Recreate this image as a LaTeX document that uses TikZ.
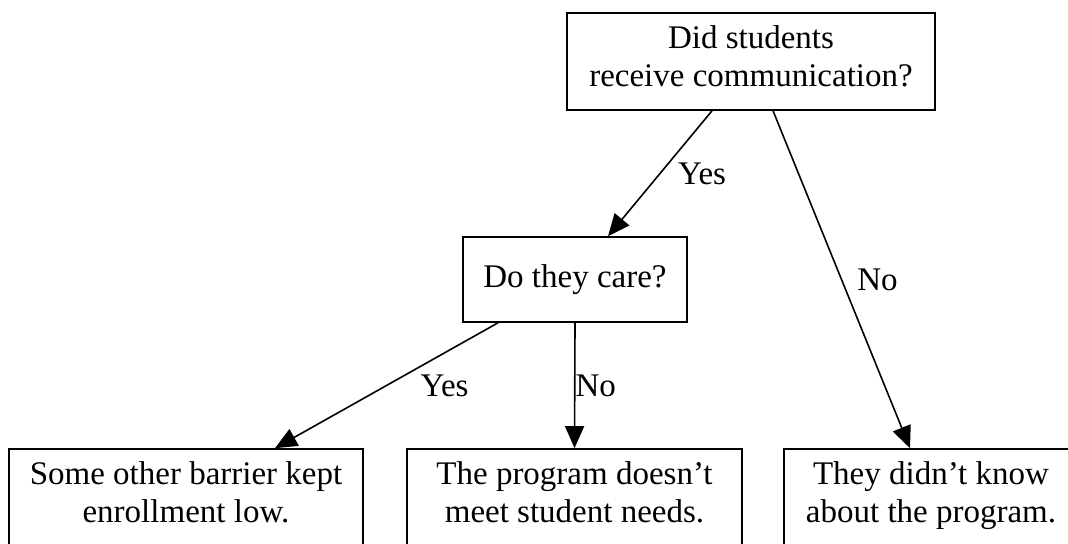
\documentclass[tikz,border=0pt]{standalone}
\usepackage{fontspec}
\setmainfont{Liberation Serif}
\usetikzlibrary{arrows.meta}
\tikzset{
  >={Triangle[length=11pt,width=9.5pt]},
  box/.style={draw, line width=0.8pt, align=center, inner xsep=0pt,
    font=\fontsize{16.5}{19}\selectfont,
    execute at begin node=\strut, execute at end node=\strut},
  two/.style={minimum height=48.5pt},
  one/.style={minimum height=42.5pt},
  lbl/.style={font=\fontsize{16.5}{19}\selectfont},
  edge/.style={->, line width=0.8pt},
}
\begin{document}
\begin{tikzpicture}[x=0.5pt,y=-0.5pt]
				\clip (0,0) rectangle (1068,544);
				\node[box,two,minimum width=184pt] (comm) at (751,61.5) {Did students\\receive communication?};
				\node[box,one,minimum width=112pt] (care) at (575,279.5) {Do they care?};
				\node[box,two,minimum width=177pt] (other) at (186,497.5) {Some other barrier kept\\enrollment low.};
				\node[box,two,minimum width=167.5pt] (needs) at (574.5,497.5) {The program doesn't\\meet student needs.};
				\node[box,two,minimum width=147pt] (know) at (931,497.5) {They didn't know\\about the program.};
				\draw[edge] ([xshift=-19.5pt]comm.south) to node[lbl,xshift=21pt]{Yes} ([xshift=16.5pt]care.north);
				\draw[edge] ([xshift=11pt]comm.south) to node[lbl,xshift=18pt]{No} ([xshift=-10.5pt]know.north);
				\draw[edge] ([xshift=-38.5pt]care.south) to node[lbl,xshift=29pt]{Yes} ([xshift=44.5pt]other.north);
				\draw[edge] (care.south) to node[lbl,xshift=10.5pt]{No} (needs.north);
			\end{tikzpicture}
\end{document}
